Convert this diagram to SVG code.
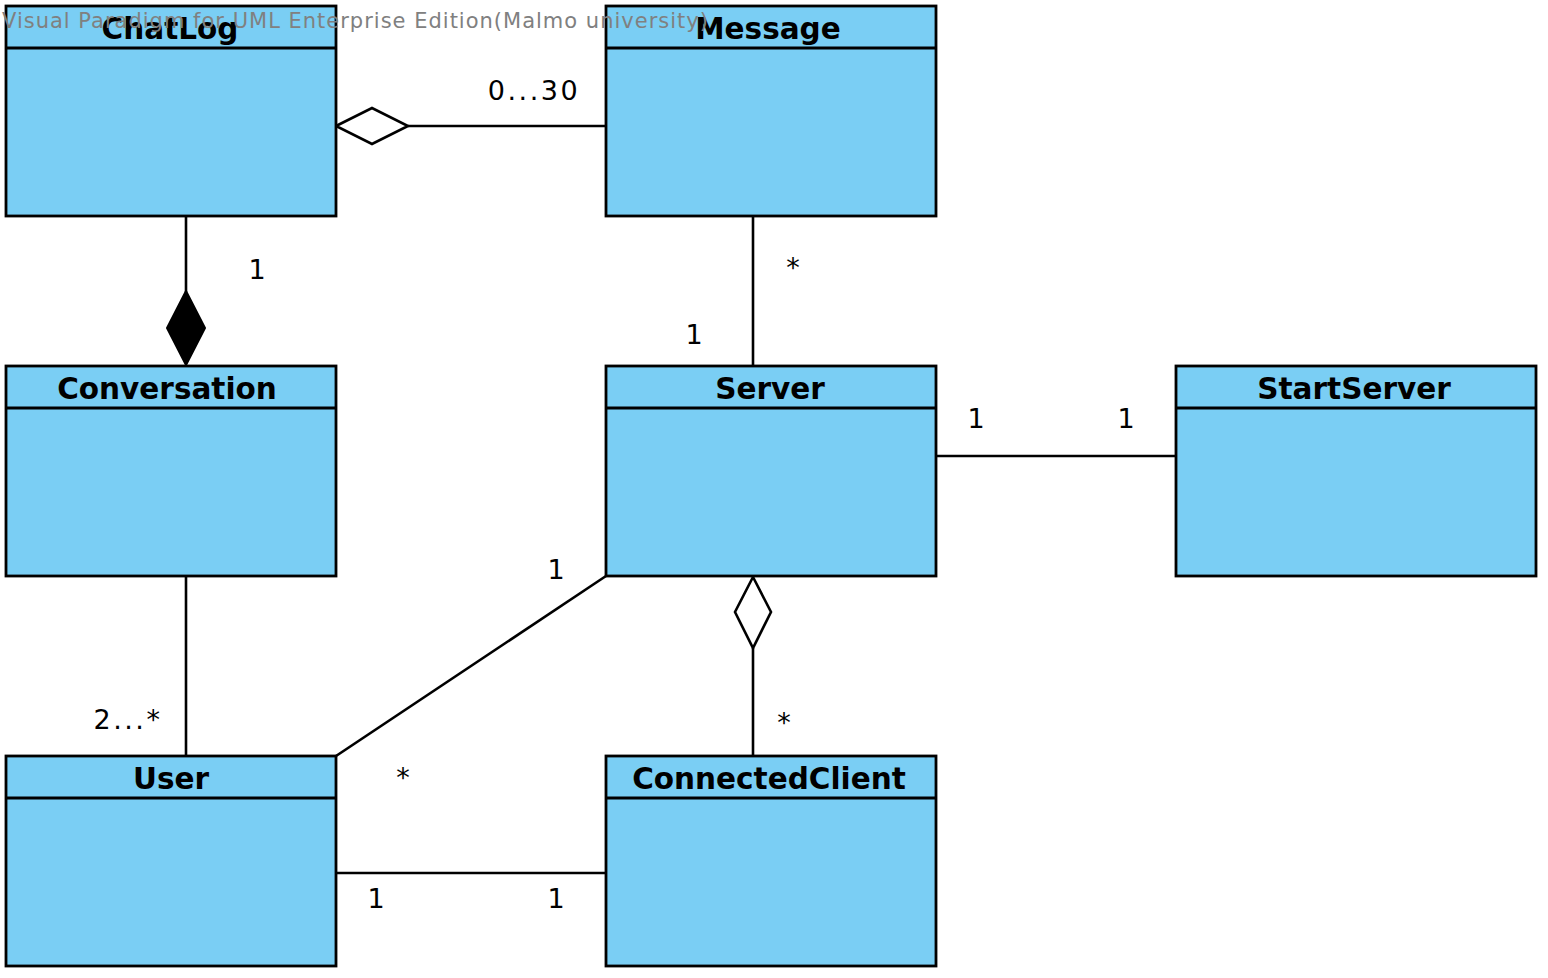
<svg xmlns="http://www.w3.org/2000/svg" width="1548" height="978" viewBox="0 0 1548 978">
<style>
.box{fill:#7ACEF4;stroke:#000;stroke-width:2.8}
.sep{stroke:#000;stroke-width:2.8}
.title{font-family:"DejaVu Sans",sans-serif;font-weight:bold;font-size:29.5px;fill:#000;text-anchor:middle}
.lbl{font-family:"DejaVu Sans",sans-serif;font-size:27px;fill:#000;text-anchor:middle}
.sp{letter-spacing:2.5px}
.ln{stroke:#000;stroke-width:2.6;fill:none}
.hd{fill:#fff;stroke:#000;stroke-width:2.6}
.fd{fill:#000;stroke:#000;stroke-width:2}
.wm{font-family:"DejaVu Sans",sans-serif;font-size:21px;letter-spacing:1px;fill:#808080}
</style>
<rect width="1548" height="978" fill="#fff"/>
<g id="connectors">
<line class="ln" x1="408" y1="126" x2="606" y2="126"/>
<polygon class="hd" points="336,126 372,108 408,126 372,144"/>
<line class="ln" x1="186" y1="216" x2="186" y2="292"/>
<polygon class="fd" points="186,291 205,328 186,365 167,328"/>
<line class="ln" x1="753" y1="216" x2="753" y2="365"/>
<line class="ln" x1="936" y1="456" x2="1176" y2="456"/>
<line class="ln" x1="753" y1="648" x2="753" y2="755"/>
<polygon class="hd" points="753,577 771,612 753,648 735,612"/>
<line class="ln" x1="186" y1="576" x2="186" y2="755"/>
<line class="ln" x1="606" y1="576" x2="336" y2="756"/>
<line class="ln" x1="336" y1="873" x2="606" y2="873"/>
<text class="lbl sp" x="534" y="100">0...30</text>
<text class="lbl" x="257" y="279">1</text>
<text class="lbl" x="793" y="277">*</text>
<text class="lbl" x="694" y="344">1</text>
<text class="lbl" x="976" y="428">1</text>
<text class="lbl" x="1126" y="428">1</text>
<text class="lbl" x="556" y="579">1</text>
<text class="lbl" x="784" y="732">*</text>
<text class="lbl sp" x="128" y="729">2...*</text>
<text class="lbl" x="403" y="787">*</text>
<text class="lbl" x="376" y="908">1</text>
<text class="lbl" x="556" y="908">1</text>
</g>
<g id="ChatLog">
<rect class="box" x="6" y="6" width="330" height="210"/>
<line class="sep" x1="6" y1="48" x2="336" y2="48"/>
<text class="title" x="170" y="39">ChatLog</text>
</g>
<g id="Message">
<rect class="box" x="606" y="6" width="330" height="210"/>
<line class="sep" x1="606" y1="48" x2="936" y2="48"/>
<text class="title" x="768" y="39">Message</text>
</g>
<g id="Conversation">
<rect class="box" x="6" y="366" width="330" height="210"/>
<line class="sep" x1="6" y1="408" x2="336" y2="408"/>
<text class="title" x="167" y="399">Conversation</text>
</g>
<g id="Server">
<rect class="box" x="606" y="366" width="330" height="210"/>
<line class="sep" x1="606" y1="408" x2="936" y2="408"/>
<text class="title" x="770" y="399">Server</text>
</g>
<g id="StartServer">
<rect class="box" x="1176" y="366" width="360" height="210"/>
<line class="sep" x1="1176" y1="408" x2="1536" y2="408"/>
<text class="title" x="1354" y="399">StartServer</text>
</g>
<g id="User">
<rect class="box" x="6" y="756" width="330" height="210"/>
<line class="sep" x1="6" y1="798" x2="336" y2="798"/>
<text class="title" x="171" y="789">User</text>
</g>
<g id="ConnectedClient">
<rect class="box" x="606" y="756" width="330" height="210"/>
<line class="sep" x1="606" y1="798" x2="936" y2="798"/>
<text class="title" x="769" y="789">ConnectedClient</text>
</g>
<text class="wm" x="2" y="28">Visual Paradigm for UML Enterprise Edition(Malmo university)</text>
</svg>
